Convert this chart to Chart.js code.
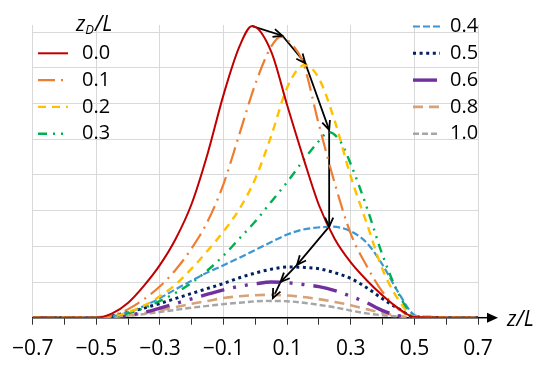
<!DOCTYPE html>
<html>
<head>
<meta charset="utf-8">
<script src="https://cdn.jsdelivr.net/npm/chart.js@4.4.0/dist/chart.umd.min.js"></script>
<style>
  body { margin: 0; background: #fff; }
  #wrap { width: 550px; height: 367px; position: relative; }
</style>
</head>
<body>
<div id="wrap"><canvas id="chart"></canvas></div>
<script>
// each series: [z/L, value] pairs
const s00 = [[-0.7,0],[-0.5,0],[-0.45,0.12],[-0.4,0.42],[-0.35,0.9],[-0.3,1.48],[-0.25,2.22],[-0.2,3.2],[-0.15,4.6],[-0.1,6.25],[-0.05,7.6],[-0.01,8.17],[0.05,7.45],[0.1,5.95],[0.15,4.5],[0.2,3.15],[0.25,2.2],[0.3,1.55],[0.35,1.05],[0.4,0.62],[0.45,0.26],[0.5,0.02],[0.7,0]];
const s01 = [[-0.7,0],[-0.5,0],[-0.45,0.06],[-0.4,0.24],[-0.35,0.52],[-0.3,0.88],[-0.25,1.35],[-0.2,1.95],[-0.15,2.7],[-0.1,3.75],[-0.05,5.15],[0,6.55],[0.05,7.6],[0.08,7.87],[0.12,7.6],[0.15,7.15],[0.2,5.4],[0.25,3.75],[0.3,2.35],[0.35,1.45],[0.4,0.72],[0.45,0.25],[0.5,0.02],[0.7,0]];
const s02 = [[-0.7,0],[-0.5,0],[-0.45,0.04],[-0.4,0.15],[-0.35,0.34],[-0.3,0.6],[-0.25,0.94],[-0.2,1.38],[-0.15,1.88],[-0.1,2.42],[-0.05,3.05],[0,3.9],[0.05,5.1],[0.1,6.45],[0.155,7.08],[0.2,6.7],[0.25,5.5],[0.3,3.95],[0.35,2.65],[0.4,1.35],[0.45,0.5],[0.5,0.03],[0.7,0]];
const s03 = [[-0.7,0],[-0.5,0],[-0.45,0.03],[-0.4,0.12],[-0.35,0.27],[-0.3,0.47],[-0.25,0.7],[-0.2,0.98],[-0.15,1.33],[-0.1,1.74],[-0.05,2.22],[0,2.7],[0.05,3.25],[0.1,3.8],[0.15,4.4],[0.2,4.95],[0.23,5.2],[0.27,4.9],[0.3,4.3],[0.35,3.1],[0.4,1.75],[0.45,0.68],[0.5,0.05],[0.7,0]];
const s04 = [[-0.7,0],[-0.5,0],[-0.45,0.04],[-0.4,0.15],[-0.35,0.33],[-0.3,0.55],[-0.25,0.8],[-0.2,1.04],[-0.15,1.27],[-0.1,1.47],[-0.05,1.68],[0,1.9],[0.05,2.12],[0.1,2.33],[0.15,2.47],[0.2,2.53],[0.24,2.55],[0.3,2.42],[0.35,2.1],[0.4,1.48],[0.45,0.7],[0.5,0.08],[0.55,0],[0.7,0]];
const s05 = [[-0.7,0],[-0.5,0],[-0.45,0.05],[-0.4,0.15],[-0.35,0.27],[-0.3,0.4],[-0.25,0.54],[-0.2,0.68],[-0.15,0.82],[-0.1,0.96],[-0.05,1.12],[0,1.25],[0.05,1.36],[0.1,1.42],[0.15,1.41],[0.2,1.37],[0.25,1.26],[0.3,1.1],[0.35,0.84],[0.4,0.53],[0.45,0.25],[0.5,0.02],[0.7,0]];
const s06 = [[-0.7,0],[-0.5,0],[-0.45,0.02],[-0.4,0.07],[-0.35,0.15],[-0.3,0.27],[-0.25,0.4],[-0.2,0.53],[-0.15,0.66],[-0.1,0.78],[-0.05,0.88],[0,0.95],[0.05,1.0],[0.1,0.98],[0.15,0.93],[0.2,0.87],[0.25,0.76],[0.3,0.6],[0.35,0.42],[0.4,0.2],[0.45,0.06],[0.5,0],[0.7,0]];
const s08 = [[-0.7,0],[-0.5,0],[-0.45,0.02],[-0.4,0.06],[-0.35,0.13],[-0.3,0.21],[-0.25,0.3],[-0.2,0.39],[-0.15,0.47],[-0.1,0.55],[-0.05,0.6],[0.04,0.64],[0.1,0.62],[0.15,0.58],[0.2,0.52],[0.25,0.44],[0.3,0.35],[0.35,0.24],[0.4,0.13],[0.45,0.05],[0.5,0],[0.7,0]];
const s10 = [[-0.7,0],[-0.5,0],[-0.45,0.02],[-0.4,0.05],[-0.35,0.1],[-0.3,0.16],[-0.25,0.22],[-0.2,0.28],[-0.15,0.33],[-0.1,0.38],[-0.05,0.42],[0.03,0.47],[0.1,0.46],[0.15,0.42],[0.2,0.36],[0.25,0.29],[0.3,0.2],[0.35,0.12],[0.4,0.07],[0.45,0.03],[0.5,0],[0.7,0]];

const seriesLabels = ['0.0', '0.1', '0.2', '0.3', '0.4', '0.5', '0.6', '0.8', '1.0'];
const seriesData = [s00, s01, s02, s03, s04, s05, s06, s08, s10];

// black arrow path joining the peaks
const pathZ = [-0.01, 0.085, 0.157, 0.232, 0.232, 0.131, 0.079, 0.055];
const pathV = [8.17, 7.9, 7.13, 5.26, 2.55, 1.48, 1.0, 0.55];

const xTicks = [-0.7, -0.5, -0.3, -0.1, 0.1, 0.3, 0.5, 0.7];

const styles = [
  { color: '#c00000', width: 2,   dash: [] },
  { color: '#ed7d31', width: 2.2, dash: [17, 6, 2, 6] },
  { color: '#ffc000', width: 2.4, dash: [8, 6] },
  { color: '#00b050', width: 2.4, dash: [9, 6, 2, 6, 2, 6] },
  { color: '#3b97d3', width: 2.2, dash: [7, 3] },
  { color: '#002060', width: 3,   dash: [3, 3.6] },
  { color: '#7030a0', width: 3.4, dash: [24, 9, 3, 9, 3, 9] },
  { color: '#d6a27a', width: 2.6, dash: [10, 6] },
  { color: '#a6a6a6', width: 2.4, dash: [6, 3] }
];

const FONT = "'Open Sans', 'Noto Sans', sans-serif";

const datasets = seriesData.map((s, i) => ({
  label: seriesLabels[i],
  data: s.map(p => ({ x: p[0], y: p[1] })),
  borderColor: styles[i].color,
  borderWidth: styles[i].width,
  borderDash: styles[i].dash,
  pointRadius: 0,
  cubicInterpolationMode: 'monotone',
  fill: false
}));

datasets.push({
  label: 'path',
  data: pathZ.map((z, i) => ({ x: z, y: pathV[i] })),
  borderColor: '#000',
  borderWidth: 1.8,
  pointRadius: 0,
  tension: 0,
  fill: false
});

const isLabelled = v => xTicks.some(t => Math.abs(t - v) < 1e-6);

const decor = {
  id: 'decor',
  afterDatasetsDraw(chart) {
    const { ctx, scales: { x, y } } = chart;
    ctx.save();
    ctx.strokeStyle = '#000';
    ctx.lineWidth = 1.8;
    ctx.setLineDash([]);
    for (let i = 1; i < pathZ.length; i++) {
      const x0 = x.getPixelForValue(pathZ[i - 1]), y0 = y.getPixelForValue(pathV[i - 1]);
      const x1 = x.getPixelForValue(pathZ[i]), y1 = y.getPixelForValue(pathV[i]);
      const a = Math.atan2(y1 - y0, x1 - x0);
      const len = 10, spread = 0.42;
      ctx.beginPath();
      ctx.moveTo(x1 - len * Math.cos(a - spread), y1 - len * Math.sin(a - spread));
      ctx.lineTo(x1, y1);
      ctx.lineTo(x1 - len * Math.cos(a + spread), y1 - len * Math.sin(a + spread));
      ctx.stroke();
    }
    ctx.restore();
  },
  afterDraw(chart) {
    const { ctx, chartArea, scales: { y } } = chart;
    ctx.save();
    // axis arrow past the last tick
    const ay = y.getPixelForValue(0);
    ctx.strokeStyle = '#000';
    ctx.fillStyle = '#000';
    ctx.lineWidth = 1.5;
    ctx.beginPath();
    ctx.moveTo(chartArea.right, ay);
    ctx.lineTo(489, ay);
    ctx.stroke();
    ctx.beginPath();
    ctx.moveTo(498, ay);
    ctx.lineTo(487, ay - 5);
    ctx.lineTo(487, ay + 5);
    ctx.closePath();
    ctx.fill();
    ctx.textBaseline = 'alphabetic';
    ctx.font = 'italic 21px ' + FONT;
    ctx.fillText('z/L', 507, ay + 8);

    // legend title z_D/L
    ctx.font = 'italic 21px ' + FONT;
    ctx.fillText('z', 76, 31);
    let w = ctx.measureText('z').width;
    ctx.font = 'italic 13px ' + FONT;
    ctx.fillText('D', 76 + w, 34);
    const w2 = ctx.measureText('D').width;
    ctx.font = 'italic 21px ' + FONT;
    ctx.fillText('/L', 77 + w + w2, 31);

    // legend entries in two columns
    ctx.font = '20px ' + FONT;
    ctx.textBaseline = 'middle';
    const rowY = r => 26.5 + r * 26.8;
    chart.data.datasets.slice(0, seriesLabels.length).forEach((ds, i) => {
      const left = i < 4;
      const row = left ? i + 1 : i - 4;
      const yy = rowY(row);
      const lx0 = left ? 38 : 413, lx1 = left ? 68 : 440, tx = left ? 82 : 450;
      ctx.strokeStyle = ds.borderColor;
      ctx.lineWidth = ds.borderWidth;
      ctx.setLineDash(ds.borderDash);
      ctx.beginPath();
      ctx.moveTo(lx0, yy);
      ctx.lineTo(lx1, yy);
      ctx.stroke();
      ctx.setLineDash([]);
      ctx.fillStyle = '#000';
      ctx.fillText(ds.label, tx, yy);
    });
    ctx.restore();
  }
};

new Chart(document.getElementById('chart'), {
  type: 'line',
  data: { datasets: datasets },
  options: {
    responsive: true,
    maintainAspectRatio: false,
    animation: false,
    layout: { padding: { left: 31, right: 72, top: 25, bottom: 6 } },
    plugins: { legend: { display: false }, tooltip: { enabled: false } },
    scales: {
      x: {
        type: 'linear',
        min: -0.7,
        max: 0.7,
        afterFit: scale => { scale.height = 43.3; },
        border: { color: '#000', width: 1.5 },
        grid: {
          color: c => (c.tick && isLabelled(c.tick.value)) ? '#d9d9d9' : 'rgba(0,0,0,0)',
          tickColor: '#333',
          tickLength: 7
        },
        ticks: {
          stepSize: 0.1,
          autoSkip: false,
          maxRotation: 0,
          padding: 12,
          color: '#000',
          font: { family: FONT, size: 21 },
          callback: v => isLabelled(v) ? (v < 0 ? '\u2212' : '') + Math.abs(v).toFixed(1) : ''
        }
      },
      y: {
        min: 0,
        max: 8.2,
        border: { display: false },
        grid: {
          color: c => (c.tick && c.tick.value > 0) ? '#d9d9d9' : 'rgba(0,0,0,0)',
          drawTicks: false
        },
        ticks: { display: false, stepSize: 1, includeBounds: false }
      }
    }
  },
  plugins: [decor]
});
</script>
</body>
</html>
